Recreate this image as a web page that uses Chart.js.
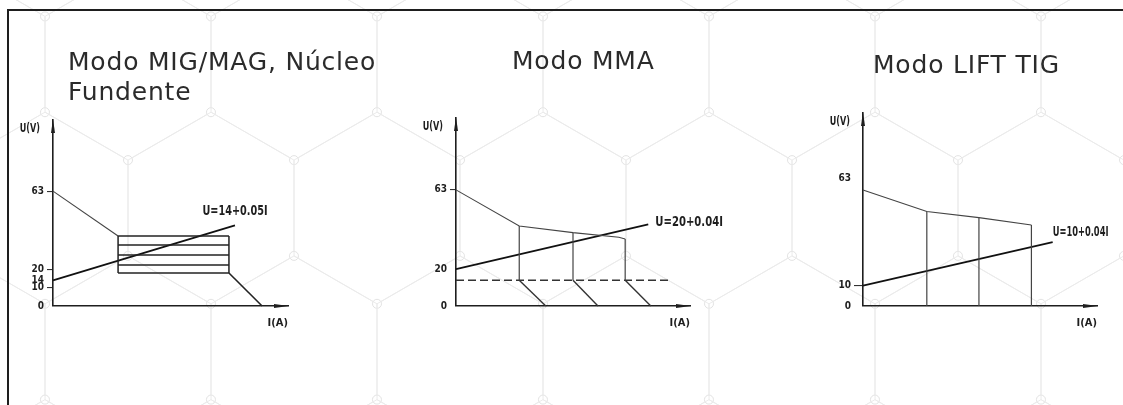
<!DOCTYPE html>
<html>
<head>
<meta charset="utf-8">
<script src="https://cdn.jsdelivr.net/npm/chart.js@4.4.1/dist/chart.umd.min.js"></script>
<style>
html, body { margin: 0; padding: 0; background: #fff; }
#wrap { position: relative; width: 1123px; height: 405px; overflow: hidden; }
#hex { position: absolute; left: 0; top: 0; }
#frame { position: absolute; left: 7px; top: 9px; width: 1130px; height: 410px;
         border-top: 2px solid #1e1e1e; border-left: 2px solid #1e1e1e; }
canvas { position: absolute; top: 0; }
.title { position: absolute; font-family: 'DejaVu Sans', sans-serif; font-size: 25px; line-height: 30px;
         letter-spacing: 0.8px; color: #2b2b2b; white-space: nowrap; }
</style>
</head>
<body>
<div id="wrap">
  <svg id="hex" width="1123" height="405"></svg>
  <div id="frame"></div>
  <canvas id="migChart" width="375" height="405" style="left:0px"></canvas>
  <canvas id="mmaChart" width="375" height="405" style="left:375px"></canvas>
  <canvas id="tigChart" width="373" height="405" style="left:750px"></canvas>
  <div class="title" style="left:68px; top:47px">Modo MIG/MAG, Núcleo<br>Fundente</div>
  <div class="title" style="left:512px; top:46px">Modo MMA</div>
  <div class="title" style="left:873px; top:50px">Modo LIFT TIG</div>
</div>
<script>
// ---- data (I in A, U in V) ----
const yTitle = 'U(V)';
const xTitle = 'I(A)';

// MIG/MAG
const migTicks = [0, 10, 14, 20, 63];
const migDroop = [[0, 63], [216, 38.4]];
const migLevels = [38.4, 33.5, 28, 22.5, 18.1];
const migBoxI = [216, 584];
const migTail = [[584, 18.1], [694, 0]];
const migLoad = [[0, 14], [604, 44.2]];
const migEqn = 'U=14+0.05I';

// MMA
const mmaTicks = [0, 20, 63];
const mmaCurve = [[0, 63], [200, 43.4], [370, 39.8], [515, 37.3], [535, 36.4]];
const mmaDrops = [[200, 43.4], [370, 39.8], [535, 36.4]];
const mmaFloor = 14;
const mmaFloorEnd = 671;
const mmaTailEnd = [284, 449, 616];
const mmaLoad = [[0, 20], [608, 44.3]];
const mmaEqn = 'U=20+0.04I';

// LIFT TIG
const tigTicks = [0, 10, 63];
const tigCurve = [[0, 57.1], [180, 46.5], [327, 43.5], [475, 39.9]];
const tigLoad = [[0, 10], [535, 31.4]];
const tigEqn = 'U=10+0.04I';

// ---- background hexagons ----
const svgNS = 'http://www.w3.org/2000/svg';
const hexSvg = document.getElementById('hex');
const R = 95.8, stepX = 166, stepY = 143.7;
const seen = new Set();
for (let row = -2; row <= 2; row++) {
  const cy = 208 + row * stepY;
  const off = (row % 2 === 0) ? 45 : 128;
  for (let cx = off - stepX; cx < 1123 + stepX; cx += stepX) {
    const v = [];
    for (let k = 0; k < 6; k++) {
      const a = (-90 + 60 * k) * Math.PI / 180;
      v.push([cx + R * Math.cos(a), cy + R * Math.sin(a)]);
    }
    const poly = document.createElementNS(svgNS, 'polygon');
    poly.setAttribute('points', v.map(p => p.join(',')).join(' '));
    poly.setAttribute('fill', 'none');
    poly.setAttribute('stroke', '#ebebeb');
    poly.setAttribute('stroke-width', '1');
    hexSvg.appendChild(poly);
    v.forEach(p => {
      const key = Math.round(p[0]) + ':' + Math.round(p[1]);
      if (seen.has(key)) return;
      seen.add(key);
      const c = document.createElementNS(svgNS, 'circle');
      c.setAttribute('cx', p[0]); c.setAttribute('cy', p[1]); c.setAttribute('r', 4.5);
      c.setAttribute('fill', '#fff'); c.setAttribute('stroke', '#e3e3e3');
      hexSvg.appendChild(c);
    });
  }
}

// ---- chart helpers ----
const ink = '#1e1e1e';
const narrow = "'Liberation Sans Narrow', 'DejaVu Sans Condensed', sans-serif";

function pts(arr) {
  return arr.map(p => ({ x: p[0], y: p[1] }));
}

function seg(arr, color, width, extra) {
  return Object.assign({
    data: pts(arr),
    borderColor: color,
    borderWidth: width,
    pointRadius: 0,
    tension: 0,
    fill: false
  }, extra || {});
}

// squeezed text, like the narrow drawing font of the original
function narrowText(ctx, text, x, y, sx) {
  ctx.save();
  ctx.translate(x, y);
  ctx.scale(sx, 1);
  ctx.fillText(text, 0, 0);
  ctx.restore();
}

// arrows, U(V) label and the equation labels
const diagramPlugin = {
  id: 'diagram',
  afterDatasetsDraw(chart, args, opts) {
    const ctx = chart.ctx;
    const a = chart.chartArea;
    ctx.save();
    ctx.fillStyle = ink;
    ctx.beginPath();
    ctx.moveTo(a.right + 1, a.bottom);
    ctx.lineTo(a.right - 14, a.bottom - 2);
    ctx.lineTo(a.right - 14, a.bottom + 2);
    ctx.closePath();
    ctx.fill();
    ctx.beginPath();
    ctx.moveTo(a.left, a.top - 1);
    ctx.lineTo(a.left - 2, a.top + 13);
    ctx.lineTo(a.left + 2, a.top + 13);
    ctx.closePath();
    ctx.fill();

    ctx.font = 'bold 12px ' + narrow;
    ctx.textAlign = 'right';
    ctx.textBaseline = 'middle';
    narrowText(ctx, opts.yTitle, a.left - 13, a.top + 9, 0.75);

    ctx.font = 'bold 14px ' + narrow;
    chart.data.datasets.forEach((ds, i) => {
      if (!ds.eqnLabel) return;
      const meta = chart.getDatasetMeta(i);
      const last = meta.data[meta.data.length - 1];
      ctx.textAlign = ds.labelAlign;
      narrowText(ctx, ds.eqnLabel, last.x + ds.labelOffset[0], last.y + ds.labelOffset[1], ds.labelSqueeze);
    });
    ctx.restore();
  }
};

function panel(id, o) {
  return new Chart(document.getElementById(id), {
    type: 'line',
    data: { datasets: o.datasets },
    options: {
      responsive: false,
      animation: false,
      clip: false,
      layout: { padding: o.padding },
      scales: {
        x: {
          type: 'linear', min: 0, max: o.xMax,
          grid: { display: false },
          ticks: { display: false },
          border: { color: ink, width: 1.6 },
          title: { display: true, text: xTitle, align: 'end', color: ink, padding: 0,
                   font: { family: narrow, weight: 'bold', size: 11 } },
          afterFit: s => { s.height = 24; }
        },
        y: {
          type: 'linear', min: 0, max: o.yMax,
          afterBuildTicks: s => { s.ticks = o.ticks.map(v => ({ value: v })); },
          grid: {
            drawOnChartArea: false, tickLength: o.tickLen, lineWidth: 1.1,
            color: c => (c.tick && o.marks.includes(c.tick.value)) ? '#333' : 'rgba(0,0,0,0)'
          },
          border: { color: ink, width: 1.6 },
          ticks: { autoSkip: false, padding: 3, color: ink,
                   font: { family: narrow, weight: 'bold', size: 10 } },
          afterFit: s => { s.width = 40; }
        }
      },
      plugins: {
        legend: { display: false },
        tooltip: { enabled: false },
        diagram: { yTitle: yTitle }
      }
    },
    plugins: [diagramPlugin]
  });
}

// ---- MIG/MAG ----
var migSets = [seg(migDroop, '#444', 1.1)];
migLevels.forEach(lv => migSets.push(seg([[migBoxI[0], lv], [migBoxI[1], lv]], '#222', 1.5)));
migBoxI.forEach(i => migSets.push(seg([[i, migLevels[0]], [i, migLevels[migLevels.length - 1]]], '#222', 1.5)));
migSets.push(seg(migTail, '#222', 1.6));
migSets.push(seg(migLoad, '#111', 1.8, { eqnLabel: migEqn, labelAlign: 'center', labelOffset: [0, -14], labelSqueeze: 0.77 }));

panel('migChart', {
  datasets: migSets, xMax: 780, yMax: 102, ticks: migTicks, marks: [10, 20, 63], tickLen: 6,
  padding: { left: 13, top: 120, right: 87, bottom: 75 }
});

// ---- MMA ----
var mmaSets = [seg(mmaCurve, '#444', 1.1)];
mmaDrops.forEach(d => mmaSets.push(seg([d, [d[0], mmaFloor]], '#444', 1.2)));
mmaSets.push(seg([[0, mmaFloor], [mmaFloorEnd, mmaFloor]], '#333', 1.6, { borderDash: [8, 4] }));
mmaDrops.forEach((d, k) => mmaSets.push(seg([[d[0], mmaFloor], [mmaTailEnd[k], 0]], '#333', 1.4)));
mmaSets.push(seg(mmaLoad, '#111', 1.8, { eqnLabel: mmaEqn, labelAlign: 'left', labelOffset: [7, -2], labelSqueeze: 0.8 }));

panel('mmaChart', {
  datasets: mmaSets, xMax: 740, yMax: 102, ticks: mmaTicks, marks: [63], tickLen: 6,
  padding: { left: 41, top: 118, right: 60, bottom: 75 }
});

// ---- LIFT TIG ----
var tigSets = [seg(tigCurve, '#444', 1.1)];
tigCurve.slice(1).forEach(p => tigSets.push(seg([p, [p[0], 0]], '#444', 1.2)));
tigSets.push(seg(tigLoad, '#111', 1.8, { eqnLabel: tigEqn, labelAlign: 'left', labelOffset: [0, -10], labelSqueeze: 0.66 }));

panel('tigChart', {
  datasets: tigSets, xMax: 660, yMax: 95, ticks: tigTicks, marks: [10], tickLen: 9,
  padding: { left: 73, top: 113, right: 26, bottom: 75 }
});
</script>
</body>
</html>
